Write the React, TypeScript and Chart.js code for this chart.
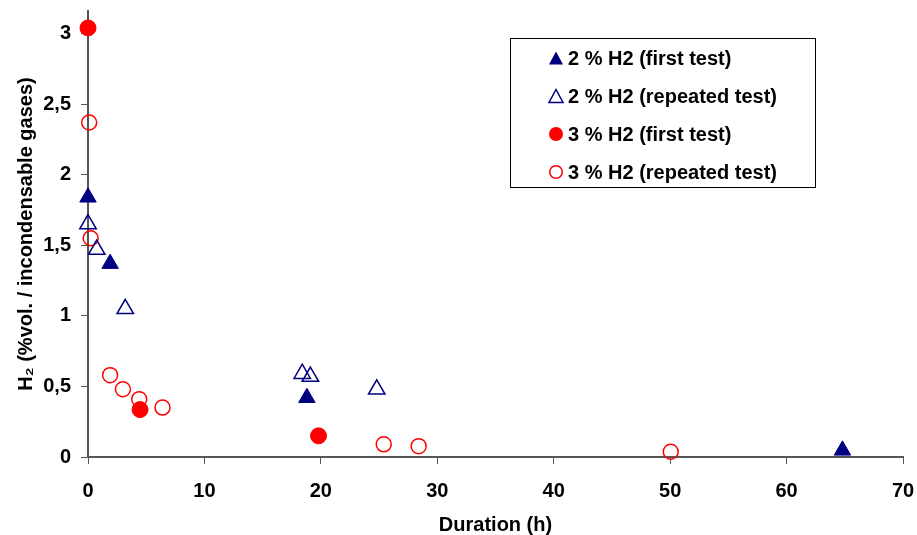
import React, { useEffect, useRef } from 'react';
import { Chart, registerables } from 'chart.js';

Chart.register(...registerables);

const NAVY = '#000080';
const RED = '#ff0000';
const AXIS = '#555555';
const FONT_FAMILY = '"Liberation Sans", Arial, Helvetica, sans-serif';

const seriesLabels = [
  '2 % H2 (first test)',
  '2 % H2 (repeated test)',
  '3 % H2 (first test)',
  '3 % H2 (repeated test)',
];

const h2FirstDuration = [0, 1.9, 18.8, 64.8];
const h2FirstValue = [1.84, 1.37, 0.42, 0.047];

const h2RepeatDuration = [0, 0.75, 3.2, 18.4, 19.1, 24.8];
const h2RepeatValue = [1.65, 1.47, 1.05, 0.59, 0.57, 0.48];

const h3FirstDuration = [0, 4.47, 19.8];
const h3FirstValue = [3.04, 0.336, 0.15];

const h3RepeatDuration = [0.1, 0.23, 1.9, 3.0, 4.4, 6.4, 25.4, 28.4, 50.05];
const h3RepeatValue = [2.37, 1.55, 0.58, 0.48, 0.41, 0.35, 0.09, 0.077, 0.037];

const xTickValues = [0, 10, 20, 30, 40, 50, 60, 70];
const yTickValues = [0, 0.5, 1, 1.5, 2, 2.5, 3];

const xTitle = 'Duration (h)';
const yTitle = 'H\u2082 (%vol. / incondensable gases)';

const pts = (xs: number[], ys: number[]) => xs.map((x, i) => ({ x, y: ys[i] }));

const tickFont = { family: FONT_FAMILY, size: 20, weight: 'bold' as const };

type MarkerKind = 'triFilled' | 'triOpen' | 'circFilled' | 'circOpen';
const legendMarkers: MarkerKind[] = ['triFilled', 'triOpen', 'circFilled', 'circOpen'];

const legendPlugin = {
  id: 'boxLegend',
  afterDraw(chart: any) {
    const ctx: CanvasRenderingContext2D = chart.ctx;
    ctx.save();
    const bx = 510, by = 38, bw = 305, bh = 149;
    ctx.fillStyle = '#ffffff';
    ctx.fillRect(bx, by, bw, bh);
    ctx.strokeStyle = '#000000';
    ctx.lineWidth = 1;
    ctx.strokeRect(bx + 0.5, by + 0.5, bw, bh);
    const mx = 556;
    const tx = 568;
    ctx.font = `bold 20px ${FONT_FAMILY}`;
    ctx.textBaseline = 'middle';
    ctx.textAlign = 'left';
    seriesLabels.forEach((label, i) => {
      const y = 58 + i * 38;
      const kind = legendMarkers[i];
      const color = i < 2 ? NAVY : RED;
      ctx.beginPath();
      if (kind === 'triFilled' || kind === 'triOpen') {
        const w = 14, h = 13;
        ctx.moveTo(mx, y - h / 2);
        ctx.lineTo(mx + w / 2, y + h / 2);
        ctx.lineTo(mx - w / 2, y + h / 2);
        ctx.closePath();
      } else {
        ctx.arc(mx, y, kind === 'circFilled' ? 7 : 6.3, 0, Math.PI * 2);
      }
      if (kind === 'triFilled' || kind === 'circFilled') {
        ctx.fillStyle = color;
        ctx.fill();
      } else {
        ctx.strokeStyle = color;
        ctx.lineWidth = 1.5;
        ctx.stroke();
      }
      ctx.fillStyle = '#000000';
      ctx.fillText(label, tx, y + 1);
    });
    ctx.restore();
  },
};

export default function App() {
  const canvasRef = useRef<HTMLCanvasElement | null>(null);

  useEffect(() => {
    if (!canvasRef.current) return;
    const chart = new Chart(canvasRef.current, {
      type: 'scatter',
      data: {
        datasets: [
          {
            label: seriesLabels[2],
            data: pts(h3FirstDuration, h3FirstValue),
            pointStyle: 'circle',
            pointRadius: 8,
            backgroundColor: RED,
            borderColor: RED,
            borderWidth: 1,
            clip: false,
          },
          {
            label: seriesLabels[0],
            data: pts(h2FirstDuration, h2FirstValue),
            pointStyle: 'triangle',
            pointRadius: 9.5,
            backgroundColor: NAVY,
            borderColor: NAVY,
            borderWidth: 1,
            clip: false,
          },
          {
            label: seriesLabels[1],
            data: pts(h2RepeatDuration, h2RepeatValue),
            pointStyle: 'triangle',
            pointRadius: 9.5,
            backgroundColor: 'rgba(0,0,0,0)',
            borderColor: NAVY,
            borderWidth: 1.5,
            clip: false,
          },
          {
            label: seriesLabels[3],
            data: pts(h3RepeatDuration, h3RepeatValue),
            pointStyle: 'circle',
            pointRadius: 7.5,
            backgroundColor: 'rgba(0,0,0,0)',
            borderColor: RED,
            borderWidth: 1.5,
            clip: false,
          },
        ] as any,
      },
      plugins: [legendPlugin],
      options: {
        responsive: false,
        animation: false,
        events: [],
        layout: { padding: { top: 8, right: 14, left: 0, bottom: 0 } },
        plugins: {
          legend: { display: false },
          tooltip: { enabled: false },
          title: { display: false },
        },
        scales: {
          x: {
            type: 'linear',
            min: 0,
            max: 70,
            afterBuildTicks: (scale: any) => {
              scale.ticks = xTickValues.map((v) => ({ value: v }));
            },
            afterFit: (scale: any) => {
              scale.height = 78;
              scale.paddingLeft = 0;
              scale.paddingRight = 0;
            },
            grid: {
              drawOnChartArea: false,
              drawTicks: true,
              tickLength: 7,
              color: AXIS,
              lineWidth: 1,
            },
            border: { display: true, color: AXIS, width: 2 },
            ticks: {
              color: '#000',
              font: tickFont,
              padding: 15,
              maxRotation: 0,
              autoSkip: false,
            },
            title: {
              display: true,
              text: xTitle,
              color: '#000',
              font: tickFont,
              padding: { top: 0, bottom: -2 },
            },
          },
          y: {
            type: 'linear',
            min: 0,
            max: 3.16,
            afterBuildTicks: (scale: any) => {
              scale.ticks = yTickValues.map((v) => ({ value: v }));
            },
            afterFit: (scale: any) => {
              scale.width = 88;
              scale.paddingTop = 0;
              scale.paddingBottom = 0;
            },
            grid: {
              drawOnChartArea: false,
              drawTicks: true,
              tickLength: 7,
              color: AXIS,
              lineWidth: 1,
            },
            border: { display: true, color: AXIS, width: 2 },
            ticks: {
              color: '#000',
              font: tickFont,
              padding: 10,
              autoSkip: false,
              callback: (v: any) => String(v).replace('.', ','),
            },
            title: {
              display: true,
              text: yTitle,
              color: '#000',
              font: tickFont,
              padding: { top: 14, bottom: 0 },
            },
          },
        },
      } as any,
    });
    return () => chart.destroy();
  }, []);

  return (
    <div style={{ position: 'absolute', left: 0, top: 0, width: 917, height: 535, background: '#fff' }}>
      <canvas ref={canvasRef} width={917} height={535} style={{ display: 'block' }} />
    </div>
  );
}
